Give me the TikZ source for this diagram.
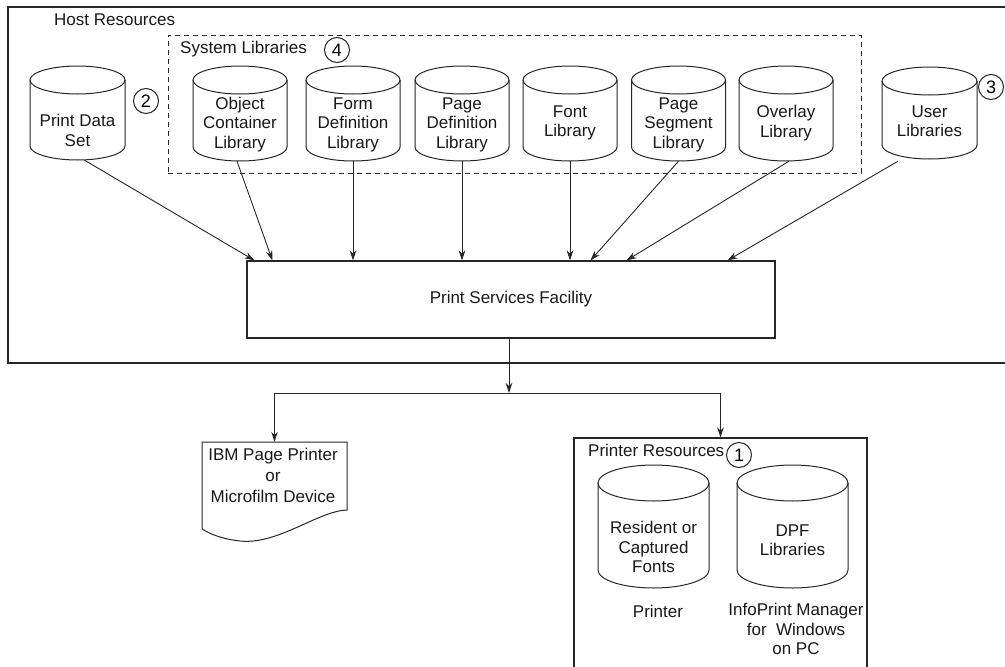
\documentclass[tikz,border=0pt]{standalone}
\usepackage{fontspec}
\setmainfont{Liberation Sans}
\usetikzlibrary{arrows.meta,calc}
\newcommand\cylshape[6]{% name, cx, top, bottom, width, ry
  \pgfmathsetmacro\cyL{#2-#5/2}%
  \pgfmathsetmacro\cyR{#2+#5/2}%
  \pgfmathsetmacro\cyT{-#3-#6}%
  \pgfmathsetmacro\cyB{-#4+#6}%
  \pgfmathsetmacro\cyX{#5/2}%
  \pgfmathsetmacro\cyM{-(#3+#4)/2}%
  \pgfmathsetmacro\cyH{#4-#3}%
  \node[minimum width=#5pt, minimum height=\cyH pt, inner sep=0pt] (#1) at (#2,\cyM) {};
  \draw[ln] (\cyL,\cyT) -- (\cyL,\cyB) arc[start angle=180,end angle=360,x radius=\cyX,y radius=#6] -- (\cyR,\cyT);
  \draw[ln] (#2,\cyT) ellipse[x radius=\cyX, y radius=#6];
}
\begin{document}
\begin{tikzpicture}[x=1pt,y=1pt,
 ln/.style={draw=black!85, line width=1pt},
 arr/.style={draw=black!85, line width=0.9pt, -{Stealth[length=10pt,width=6.5pt]}},
 txt/.style={align=center, inner sep=0pt, font=\fontsize{17}{19.5}\selectfont, text=black!90},
 num/.style={circle, draw=black!85, line width=1pt, minimum size=25pt, inner sep=0pt, font=\fontsize{18}{18}\selectfont},
 frame/.style={draw=black!85, line width=1.1pt, inner sep=0pt},
]
\useasboundingbox (0,0) rectangle (1005,-667);
\clip (0,0) rectangle (1005,-667);
\fill[white] (0,0) rectangle (1005,-667);

% Host resources frame
\node[frame, minimum width=1020pt, minimum height=356pt] (host) at (518,-185) {};
\node[txt, anchor=west] (hostlbl) at (54,-20) {Host Resources};

% System libraries dashed frame
\node[frame, line width=0.9pt, dash pattern=on 5pt off 4pt, minimum width=693pt, minimum height=138pt] (sys) at (514.5,-104) {};
\node[txt, anchor=west] (syslbl) at (180,-49) {System Libraries};
\node[num] (n4) at (337,-50) {4};

% Cylinders
\cylshape{pds}{77.5}{66}{160}{95}{14}
\cylshape{obj}{240}{66}{161}{94}{14}
\cylshape{form}{353}{66}{161}{94}{14}
\cylshape{pdef}{462}{66}{161}{94}{14}
\cylshape{fontlib}{570}{66}{161}{94}{14}
\cylshape{pseg}{678.5}{66}{161}{94}{14}
\cylshape{ovl}{786}{66}{161}{94}{14}
\cylshape{user}{929.5}{67}{159}{95}{14}
\cylshape{res}{653.5}{465}{588}{111}{18}
\cylshape{dpf}{792.5}{465}{588}{111}{18}

\node[txt] (pdstxt) at (77.5,-130.5) {Print Data\\Set};
\node[txt] (objtxt) at (240,-124.5) {Object\\Container\\Library};
\node[txt] (formtxt) at (353,-124.5) {Form\\Definition\\Library};
\node[txt] (pdeftxt) at (462,-124.5) {Page\\Definition\\Library};
\node[txt] (fonttxt) at (570,-123) {Font\\Library};
\node[txt] (psegtxt) at (678.5,-124.5) {Page\\Segment\\Library};
\node[txt] (ovltxt) at (786,-123) {Overlay\\Library};
\node[txt] (usertxt) at (929.5,-121) {User\\Libraries};
\node[num] (n2) at (146,-101) {2};
\node[num] (n3) at (991,-87) {3};

% Print Services Facility
\node[frame, txt, minimum width=528pt, minimum height=77pt] (psf) at (511,-299.5) {Print Services Facility};

\draw[arr] ($(pds.south)+(7,0)$) -- ($(psf.north west)+(8,0)$);
\draw[arr] ($(obj.south)+(-3,0)$) -- ($(psf.north west)+(26,0)$);
\draw[arr] (form.south) -- (form.south |- psf.north);
\draw[arr] (pdef.south) -- (pdef.south |- psf.north);
\draw[arr] (fontlib.south) -- (fontlib.south |- psf.north);
\draw[arr] (pseg.south) -- ($(psf.north west)+(344,0)$);
\draw[arr] ($(ovl.south)+(3,0)$) -- ($(psf.north west)+(380,0)$);
\draw[arr] ($(user.south)+(-31.5,-2)$) -- ($(psf.north west)+(481,0)$);

% Output side
\node[minimum width=146pt, minimum height=98pt, inner sep=0pt] (doc) at (274.5,-491) {};
\draw[ln] (202,-442) -- (347,-442) -- (347,-510)
  .. controls (318,-511) and (278,-545) .. (240,-541)
  .. controls (222,-539) and (210,-534) .. (202,-529) -- cycle;
\node[txt, font=\fontsize{17}{21}\selectfont] (doctxt) at (273,-475) {IBM Page Printer\\or\\Microfilm Device};

\node[frame, minimum width=293pt, minimum height=270pt] (pres) at (720.5,-573) {};
\node[txt, anchor=west] (preslbl) at (588,-450) {Printer Resources};
\node[num] (n1) at (739,-455) {1};

\coordinate (jn) at (509,-393);
\draw[arr] (psf.south -| jn) -- (jn);
\draw[ln, line width=0.9pt] (jn -| doc.north) -- (jn -| pres.north);
\draw[arr] (jn -| doc.north) -- (doc.north);
\draw[arr] (jn -| pres.north) -- (pres.north);

\node[txt] (restxt) at (653.5,-547) {Resident or\\Captured\\Fonts};
\node[txt] (dpftxt) at (792.5,-540) {DPF\\Libraries};
\node[txt] (prntxt) at (658,-611) {Printer};
\node[txt] (ipmtxt) at (796,-629) {InfoPrint Manager\\for\ \ Windows\\on PC};
\end{tikzpicture}
\end{document}
